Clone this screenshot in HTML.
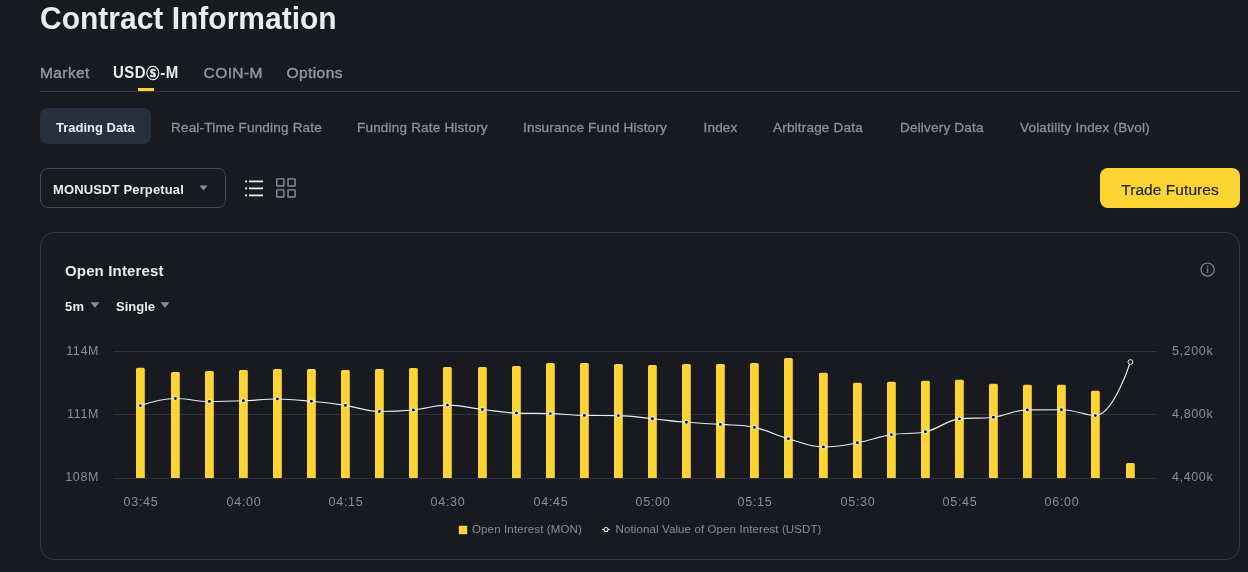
<!DOCTYPE html>
<html lang="en"><head><meta charset="utf-8"><title>Contract Information</title>
<style>
*{box-sizing:border-box;margin:0;padding:0}
html,body{width:1248px;height:572px;overflow:hidden;background:#181a20;}
body{position:relative;font-family:"Liberation Sans",Arial,sans-serif;color:#eaecef;}
.abs{position:absolute;white-space:nowrap}
h1{position:absolute;left:40px;top:1.3px;transform:scaleY(1.065);transform-origin:0 28.7px;font-size:30px;line-height:36px;font-weight:700;color:#eaecef;white-space:nowrap}
.tab{position:absolute;top:63.5px;font-size:15.5px;line-height:18px;color:#9299a6;font-weight:400;letter-spacing:0.4px;white-space:nowrap;-webkit-text-stroke:0.4px #9299a6}
.tab.on{color:#eaecef;font-weight:700;font-size:15px;letter-spacing:0.4px;-webkit-text-stroke:0;top:64.3px;transform:scaleY(1.04);transform-origin:0 14.2px}
.cs{font-family:"Noto Sans CJK SC","Noto Sans CJK JP","DejaVu Sans",sans-serif;font-size:13.2px;font-weight:700;display:inline-block;line-height:18px;vertical-align:top;position:relative;top:-0.2px;margin:0 0.5px 0 0.3px;-webkit-text-stroke:0.45px #eaecef}
.tabline{position:absolute;left:40px;top:91px;width:1200px;height:1px;background:#323742}
.ind{position:absolute;left:138px;top:88px;width:16.3px;height:3.3px;background:#fcd535}
.sub{position:absolute;top:119.5px;font-size:13.5px;line-height:16px;color:#8a929f;letter-spacing:0.2px;white-space:nowrap;-webkit-text-stroke:0.3px #8a929f}
.pill{position:absolute;left:40px;top:108px;width:110.5px;height:36px;border-radius:8px;background:#2a303b}
.sub.on{color:#eaecef;font-weight:700;font-size:13px;letter-spacing:0;-webkit-text-stroke:0;top:120px}
.sel{position:absolute;left:40px;top:168px;width:186px;height:40px;border:1px solid #434c5a;border-radius:8px}
.btn{position:absolute;left:1100px;top:168px;width:140px;height:40px;border-radius:8px;background:#fcd535;color:#202630;font-size:15.5px;line-height:43.5px;text-align:center;letter-spacing:0.06px;-webkit-text-stroke:0.2px #202630}
.card{position:absolute;left:40px;top:232px;width:1200px;height:327.5px;border:1px solid #333844;border-radius:14px}
.chart{position:absolute;left:0;top:0}
.ax{font-family:"Liberation Sans",Arial,sans-serif;font-size:12.5px;fill:#848e9c;letter-spacing:0.62px}
.lg{font-family:"Liberation Sans",Arial,sans-serif;font-size:11.5px;fill:#848e9c;letter-spacing:0.14px}
</style></head><body>
<h1>Contract Information</h1>
<div class="tab" style="left:40px">Market</div>
<div class="tab on" style="left:113px">USD<span class="cs">Ⓢ</span>-M</div>
<div class="tab" style="left:203.6px">COIN-M</div>
<div class="tab" style="left:286.6px">Options</div>
<div class="tabline"></div><div class="ind"></div>
<div class="pill"></div>
<div class="sub on" style="left:56px">Trading Data</div>
<div class="sub" style="left:171px">Real-Time Funding Rate</div>
<div class="sub" style="left:357px">Funding Rate History</div>
<div class="sub" style="left:523px">Insurance Fund History</div>
<div class="sub" style="left:703.5px">Index</div>
<div class="sub" style="left:773px">Arbitrage Data</div>
<div class="sub" style="left:900px">Delivery Data</div>
<div class="sub" style="left:1020px">Volatility Index (Bvol)</div>
<div class="sel"></div>
<div class="abs" style="left:53px;top:182px;font-size:13px;line-height:16px;font-weight:700;letter-spacing:0.14px">MONUSDT Perpetual</div>
<svg class="abs" style="left:198.5px;top:184.5px" width="9" height="6" viewBox="0 0 10 6"><path d="M0.5,0.3h9L5,5.7z" fill="#848e9c"/></svg>
<svg class="abs" style="left:244px;top:177.7px" width="20" height="20" viewBox="0 0 20 20"><g fill="#eaecef"><rect x="1" y="2.3" width="2.2" height="2.2" rx="1.1"/><rect x="5" y="2.5" width="14" height="1.8"/><rect x="1" y="9.3" width="2.2" height="2.2" rx="1.1"/><rect x="5" y="9.5" width="14" height="1.8"/><rect x="1" y="16.3" width="2.2" height="2.2" rx="1.1"/><rect x="5" y="16.5" width="14" height="1.8"/></g></svg>
<svg class="abs" style="left:276px;top:178px" width="20" height="20" viewBox="0 0 20 20"><g fill="none" stroke="#8b909c" stroke-width="1.4"><rect x="0.8" y="0.9" width="7.1" height="7.1" rx="0.6"/><rect x="12" y="0.9" width="7.1" height="7.1" rx="0.6"/><rect x="0.8" y="11.9" width="7.1" height="7.1" rx="0.6"/><rect x="12" y="11.9" width="7.1" height="7.1" rx="0.6"/></g></svg>
<div class="btn">Trade Futures</div>
<div class="card"></div>
<div class="abs" style="left:65px;top:262px;font-size:15px;line-height:18px;font-weight:700;letter-spacing:0.15px">Open Interest</div>
<div class="abs" style="left:65px;top:299px;font-size:13px;line-height:16px;font-weight:700;letter-spacing:0.2px">5m</div>
<svg class="abs" style="left:90px;top:302px" width="10" height="6" viewBox="0 0 10 6"><path d="M0.5,0.3h9L5,5.7z" fill="#848e9c"/></svg>
<div class="abs" style="left:116px;top:299px;font-size:13px;line-height:16px;font-weight:700">Single</div>
<svg class="abs" style="left:160px;top:302px" width="10" height="6" viewBox="0 0 10 6"><path d="M0.5,0.3h9L5,5.7z" fill="#848e9c"/></svg>
<svg class="abs" style="left:1199.5px;top:261.5px" width="16" height="16" viewBox="0 0 16 16"><circle cx="7.6" cy="7.6" r="6.6" fill="none" stroke="#848e9c" stroke-width="1.2"/><rect x="6.9" y="6.1" width="1.4" height="4.9" fill="#848e9c" opacity="0.85"/><rect x="6.9" y="3.8" width="1.4" height="1.4" fill="#848e9c" opacity="0.85"/></svg>
<svg class="chart" width="1248" height="572" viewBox="0 0 1248 572">
<line x1="113.5" x2="1157" y1="351.5" y2="351.5" stroke="#2e323b" stroke-width="1"/>
<line x1="113.5" x2="1157" y1="414.5" y2="414.5" stroke="#2e323b" stroke-width="1"/>
<line x1="113.5" x2="1157" y1="478.5" y2="478.5" stroke="#2e323b" stroke-width="1"/>
<path d="M136.00,478V369.20q0,-1.5 1.5,-1.5h5.80q1.5,0 1.5,1.5V478z" fill="#fcd535"/>
<path d="M171.00,478V373.50q0,-1.5 1.5,-1.5h5.80q1.5,0 1.5,1.5V478z" fill="#fcd535"/>
<path d="M205.00,478V372.50q0,-1.5 1.5,-1.5h5.80q1.5,0 1.5,1.5V478z" fill="#fcd535"/>
<path d="M239.00,478V371.50q0,-1.5 1.5,-1.5h5.80q1.5,0 1.5,1.5V478z" fill="#fcd535"/>
<path d="M273.00,478V370.40q0,-1.5 1.5,-1.5h5.80q1.5,0 1.5,1.5V478z" fill="#fcd535"/>
<path d="M307.00,478V370.40q0,-1.5 1.5,-1.5h5.80q1.5,0 1.5,1.5V478z" fill="#fcd535"/>
<path d="M341.00,478V371.50q0,-1.5 1.5,-1.5h5.80q1.5,0 1.5,1.5V478z" fill="#fcd535"/>
<path d="M375.00,478V370.40q0,-1.5 1.5,-1.5h5.80q1.5,0 1.5,1.5V478z" fill="#fcd535"/>
<path d="M409.00,478V369.40q0,-1.5 1.5,-1.5h5.80q1.5,0 1.5,1.5V478z" fill="#fcd535"/>
<path d="M443.00,478V368.40q0,-1.5 1.5,-1.5h5.80q1.5,0 1.5,1.5V478z" fill="#fcd535"/>
<path d="M478.00,478V368.40q0,-1.5 1.5,-1.5h5.80q1.5,0 1.5,1.5V478z" fill="#fcd535"/>
<path d="M512.00,478V367.40q0,-1.5 1.5,-1.5h5.80q1.5,0 1.5,1.5V478z" fill="#fcd535"/>
<path d="M546.00,478V364.50q0,-1.5 1.5,-1.5h5.80q1.5,0 1.5,1.5V478z" fill="#fcd535"/>
<path d="M580.00,478V364.50q0,-1.5 1.5,-1.5h5.80q1.5,0 1.5,1.5V478z" fill="#fcd535"/>
<path d="M614.00,478V365.60q0,-1.5 1.5,-1.5h5.80q1.5,0 1.5,1.5V478z" fill="#fcd535"/>
<path d="M648.00,478V366.60q0,-1.5 1.5,-1.5h5.80q1.5,0 1.5,1.5V478z" fill="#fcd535"/>
<path d="M682.00,478V365.60q0,-1.5 1.5,-1.5h5.80q1.5,0 1.5,1.5V478z" fill="#fcd535"/>
<path d="M716.00,478V365.60q0,-1.5 1.5,-1.5h5.80q1.5,0 1.5,1.5V478z" fill="#fcd535"/>
<path d="M750.00,478V364.50q0,-1.5 1.5,-1.5h5.80q1.5,0 1.5,1.5V478z" fill="#fcd535"/>
<path d="M784.00,478V359.40q0,-1.5 1.5,-1.5h5.80q1.5,0 1.5,1.5V478z" fill="#fcd535"/>
<path d="M819.00,478V374.30q0,-1.5 1.5,-1.5h5.80q1.5,0 1.5,1.5V478z" fill="#fcd535"/>
<path d="M853.00,478V384.30q0,-1.5 1.5,-1.5h5.80q1.5,0 1.5,1.5V478z" fill="#fcd535"/>
<path d="M887.00,478V383.20q0,-1.5 1.5,-1.5h5.80q1.5,0 1.5,1.5V478z" fill="#fcd535"/>
<path d="M921.00,478V382.20q0,-1.5 1.5,-1.5h5.80q1.5,0 1.5,1.5V478z" fill="#fcd535"/>
<path d="M955.00,478V381.20q0,-1.5 1.5,-1.5h5.80q1.5,0 1.5,1.5V478z" fill="#fcd535"/>
<path d="M989.00,478V385.30q0,-1.5 1.5,-1.5h5.80q1.5,0 1.5,1.5V478z" fill="#fcd535"/>
<path d="M1023.00,478V386.30q0,-1.5 1.5,-1.5h5.80q1.5,0 1.5,1.5V478z" fill="#fcd535"/>
<path d="M1057.00,478V386.30q0,-1.5 1.5,-1.5h5.80q1.5,0 1.5,1.5V478z" fill="#fcd535"/>
<path d="M1091.00,478V392.20q0,-1.5 1.5,-1.5h5.80q1.5,0 1.5,1.5V478z" fill="#fcd535"/>
<path d="M1126.00,478V464.50q0,-1.5 1.5,-1.5h5.80q1.5,0 1.5,1.5V478z" fill="#fcd535"/>
<path d="M140.40,405.60C140.40,405.60 161.29,398.50 175.40,398.50C188.89,398.50 195.78,401.50 209.40,401.50C222.98,401.50 229.81,401.30 243.40,400.80C257.01,400.30 263.81,399.00 277.40,399.00C291.01,399.00 297.83,400.02 311.40,401.30C325.03,402.58 331.86,403.37 345.40,405.40C359.06,407.45 365.70,411.50 379.40,411.50C392.90,411.50 399.86,411.27 413.40,410.00C427.06,408.71 433.78,405.10 447.40,405.10C461.38,405.10 468.38,407.87 482.40,409.50C495.98,411.07 502.76,412.60 516.40,413.10C529.96,413.60 536.81,413.14 550.40,413.60C564.01,414.06 570.79,415.20 584.40,415.40C597.99,415.60 604.83,415.40 618.40,415.60C632.03,415.80 638.81,417.36 652.40,418.70C666.01,420.04 672.78,421.16 686.40,422.30C699.98,423.44 706.81,423.38 720.40,424.40C734.01,425.42 741.13,424.61 754.40,427.40C768.33,430.33 774.62,434.81 788.40,438.70C802.22,442.61 809.27,446.90 823.40,446.90C836.87,446.90 843.94,445.23 857.40,442.80C871.14,440.31 877.63,436.83 891.40,434.60C904.83,432.43 912.23,434.60 925.40,431.80C939.43,428.82 945.35,420.72 959.40,418.90C972.55,417.20 979.94,418.90 993.40,417.20C1007.14,415.46 1013.65,410.10 1027.40,409.90C1040.85,409.70 1047.90,409.70 1061.40,409.70C1075.10,409.70 1085.73,415.60 1095.40,415.60C1113.33,415.60 1130.40,362.00 1130.40,362.00" fill="none" stroke="#eaecef" stroke-width="1.15"/>
<circle cx="140.40" cy="405.60" r="1.95" fill="#0b0e11" stroke="#eaecef" stroke-width="1.05"/>
<circle cx="175.40" cy="398.50" r="1.95" fill="#0b0e11" stroke="#eaecef" stroke-width="1.05"/>
<circle cx="209.40" cy="401.50" r="1.95" fill="#0b0e11" stroke="#eaecef" stroke-width="1.05"/>
<circle cx="243.40" cy="400.80" r="1.95" fill="#0b0e11" stroke="#eaecef" stroke-width="1.05"/>
<circle cx="277.40" cy="399.00" r="1.95" fill="#0b0e11" stroke="#eaecef" stroke-width="1.05"/>
<circle cx="311.40" cy="401.30" r="1.95" fill="#0b0e11" stroke="#eaecef" stroke-width="1.05"/>
<circle cx="345.40" cy="405.40" r="1.95" fill="#0b0e11" stroke="#eaecef" stroke-width="1.05"/>
<circle cx="379.40" cy="411.50" r="1.95" fill="#0b0e11" stroke="#eaecef" stroke-width="1.05"/>
<circle cx="413.40" cy="410.00" r="1.95" fill="#0b0e11" stroke="#eaecef" stroke-width="1.05"/>
<circle cx="447.40" cy="405.10" r="1.95" fill="#0b0e11" stroke="#eaecef" stroke-width="1.05"/>
<circle cx="482.40" cy="409.50" r="1.95" fill="#0b0e11" stroke="#eaecef" stroke-width="1.05"/>
<circle cx="516.40" cy="413.10" r="1.95" fill="#0b0e11" stroke="#eaecef" stroke-width="1.05"/>
<circle cx="550.40" cy="413.60" r="1.95" fill="#0b0e11" stroke="#eaecef" stroke-width="1.05"/>
<circle cx="584.40" cy="415.40" r="1.95" fill="#0b0e11" stroke="#eaecef" stroke-width="1.05"/>
<circle cx="618.40" cy="415.60" r="1.95" fill="#0b0e11" stroke="#eaecef" stroke-width="1.05"/>
<circle cx="652.40" cy="418.70" r="1.95" fill="#0b0e11" stroke="#eaecef" stroke-width="1.05"/>
<circle cx="686.40" cy="422.30" r="1.95" fill="#0b0e11" stroke="#eaecef" stroke-width="1.05"/>
<circle cx="720.40" cy="424.40" r="1.95" fill="#0b0e11" stroke="#eaecef" stroke-width="1.05"/>
<circle cx="754.40" cy="427.40" r="1.95" fill="#0b0e11" stroke="#eaecef" stroke-width="1.05"/>
<circle cx="788.40" cy="438.70" r="1.95" fill="#0b0e11" stroke="#eaecef" stroke-width="1.05"/>
<circle cx="823.40" cy="446.90" r="1.95" fill="#0b0e11" stroke="#eaecef" stroke-width="1.05"/>
<circle cx="857.40" cy="442.80" r="1.95" fill="#0b0e11" stroke="#eaecef" stroke-width="1.05"/>
<circle cx="891.40" cy="434.60" r="1.95" fill="#0b0e11" stroke="#eaecef" stroke-width="1.05"/>
<circle cx="925.40" cy="431.80" r="1.95" fill="#0b0e11" stroke="#eaecef" stroke-width="1.05"/>
<circle cx="959.40" cy="418.90" r="1.95" fill="#0b0e11" stroke="#eaecef" stroke-width="1.05"/>
<circle cx="993.40" cy="417.20" r="1.95" fill="#0b0e11" stroke="#eaecef" stroke-width="1.05"/>
<circle cx="1027.40" cy="409.90" r="1.95" fill="#0b0e11" stroke="#eaecef" stroke-width="1.05"/>
<circle cx="1061.40" cy="409.70" r="1.95" fill="#0b0e11" stroke="#eaecef" stroke-width="1.05"/>
<circle cx="1095.40" cy="415.60" r="1.95" fill="#0b0e11" stroke="#eaecef" stroke-width="1.05"/>
<circle cx="1130.40" cy="362.00" r="2.4" fill="#181a20" stroke="#eaecef" stroke-width="1"/>
<text x="99" y="354.8" text-anchor="end" class="ax">114M</text>
<text x="99" y="417.8" text-anchor="end" class="ax">111M</text>
<text x="99" y="480.8" text-anchor="end" class="ax">108M</text>
<text x="1172" y="354.8" class="ax">5,200k</text>
<text x="1172" y="417.8" class="ax">4,800k</text>
<text x="1172" y="480.8" class="ax">4,400k</text>
<text x="141.00" y="506" text-anchor="middle" class="ax" style="letter-spacing:0.75px">03:45</text>
<text x="244.00" y="506" text-anchor="middle" class="ax" style="letter-spacing:0.75px">04:00</text>
<text x="346.00" y="506" text-anchor="middle" class="ax" style="letter-spacing:0.75px">04:15</text>
<text x="448.00" y="506" text-anchor="middle" class="ax" style="letter-spacing:0.75px">04:30</text>
<text x="551.00" y="506" text-anchor="middle" class="ax" style="letter-spacing:0.75px">04:45</text>
<text x="653.00" y="506" text-anchor="middle" class="ax" style="letter-spacing:0.75px">05:00</text>
<text x="755.00" y="506" text-anchor="middle" class="ax" style="letter-spacing:0.75px">05:15</text>
<text x="858.00" y="506" text-anchor="middle" class="ax" style="letter-spacing:0.75px">05:30</text>
<text x="960.00" y="506" text-anchor="middle" class="ax" style="letter-spacing:0.75px">05:45</text>
<text x="1062.00" y="506" text-anchor="middle" class="ax" style="letter-spacing:0.75px">06:00</text>
<rect x="458.8" y="525.8" width="8.4" height="8.4" fill="#fcd535"/>
<text x="472" y="532.8" class="lg">Open Interest (MON)</text>
<line x1="602" x2="610" y1="529.5" y2="529.5" stroke="#eaecef" stroke-width="1"/>
<circle cx="606" cy="529.5" r="2" fill="#0b0e11" stroke="#eaecef" stroke-width="1.1"/>
<text x="615.6" y="532.8" class="lg" style="letter-spacing:0.11px">Notional Value of Open Interest (USDT)</text>
</svg>
</body></html>
